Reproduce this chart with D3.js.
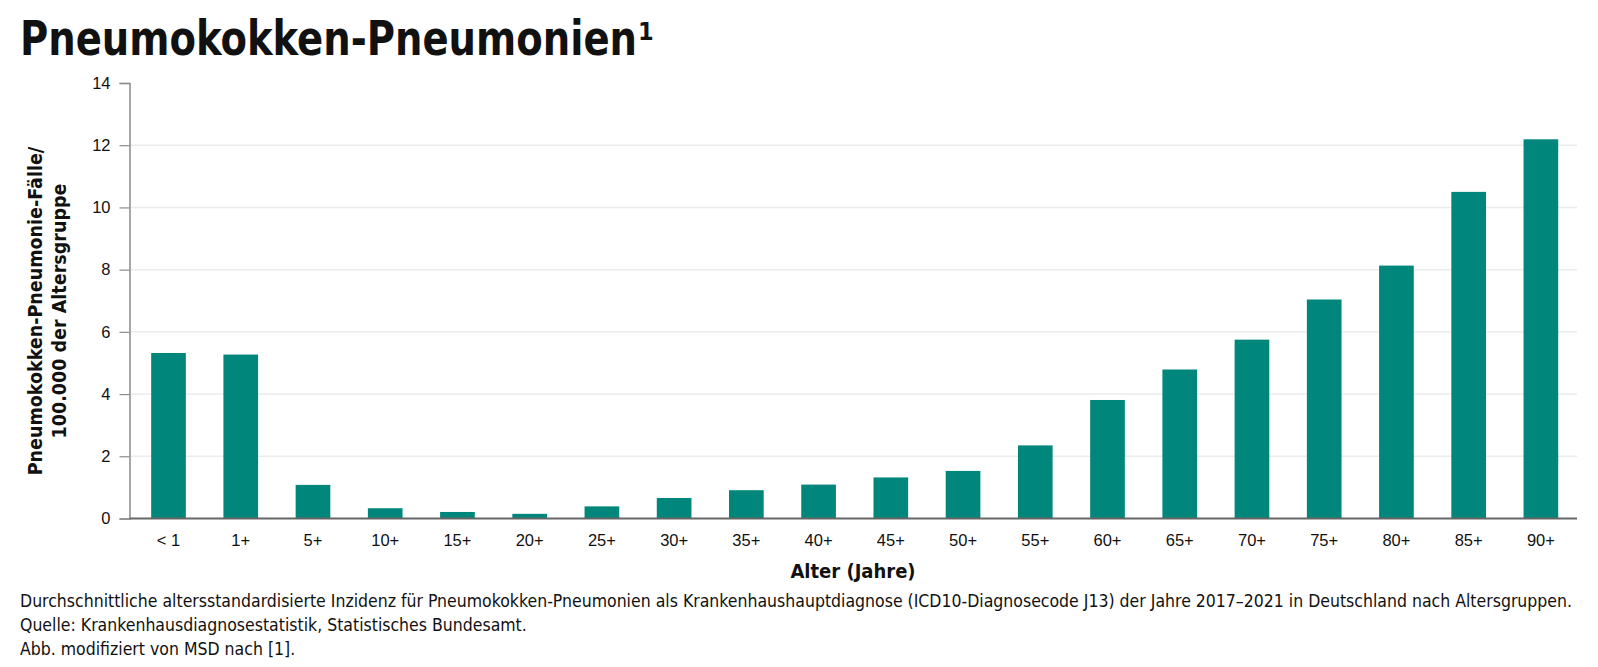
<!DOCTYPE html>
<html>
<head>
<meta charset="utf-8">
<script src="https://cdn.jsdelivr.net/npm/d3@7"></script>
<style>
  body { margin: 0; background: #fff; }
  svg { display: block; font-family: "DejaVu Sans Condensed", "DejaVu Sans", sans-serif; }
</style>
</head>
<body>
<div id="content"></div>
<script>
// Daten
var ageGroups = ["< 1", "1+", "5+", "10+", "15+", "20+", "25+", "30+", "35+", "40+",
                 "45+", "50+", "55+", "60+", "65+", "70+", "75+", "80+", "85+", "90+"];
var incidence = [5.32, 5.27, 1.08, 0.33, 0.21, 0.15, 0.39, 0.66, 0.91, 1.09,
                 1.32, 1.53, 2.35, 3.81, 4.79, 5.75, 7.04, 8.13, 10.50, 12.19];
var yTicks = [0, 2, 4, 6, 8, 10, 12, 14];

var titleText = "Pneumokokken-Pneumonien";
var yLabel = ["Pneumokokken-Pneumonie-Fälle/", "100.000 der Altersgruppe"];
var xLabel = "Alter (Jahre)";
var notes = [
  "Durchschnittliche altersstandardisierte Inzidenz für Pneumokokken-Pneumonien als Krankenhaushauptdiagnose (ICD10-Diagnosecode J13) der Jahre 2017–2021 in Deutschland nach Altersgruppen.",
  "Quelle: Krankenhausdiagnosestatistik, Statistisches Bundesamt.",
  "Abb. modifiziert von MSD nach [1]."
];

var data = ageGroups.map((g, i) => ({ group: g, value: incidence[i] }));

// Grafikparameter
let width = 1598, height = 667,
    pLeft = 129.5, pRight = 1577, pTop = 83, pBottom = 518.5,
    titleWidth = 617;

var svg = d3.select("#content").append("svg")
    .attr("width", width)
    .attr("height", height);

var x = d3.scaleBand()
      .domain(ageGroups)
      .range([132.4, pRight])
      .paddingInner(0.52)
      .paddingOuter(0.26),
    y = d3.scaleLinear()
      .domain([0, 14])
      .range([pBottom, pTop]);

// Titel (schmal gesetzt wie im Original)
svg.append("text")
    .attr("x", 20)
    .attr("y", 55)
    .attr("font-size", 48)
    .attr("font-weight", "bold")
    .attr("fill", "#111")
    .attr("textLength", titleWidth)
    .attr("lengthAdjust", "spacingAndGlyphs")
    .text(titleText);

// Fußnotenzeichen, hochgestellt
svg.append("text")
    .attr("x", 20 + titleWidth + 1)
    .attr("y", 40)
    .attr("font-size", 25)
    .attr("font-weight", "bold")
    .attr("fill", "#111")
    .text("1");

// Gitterlinien
svg.append("g")
  .selectAll("line")
    .data(yTicks.filter(d => d > 0 && d < 14))
  .join("line")
    .attr("x1", pLeft)
    .attr("x2", pRight)
    .attr("y1", d => y(d))
    .attr("y2", d => y(d))
    .attr("stroke", "#ebebeb")
    .attr("stroke-width", 1.5);

// Balken
svg.append("g")
  .selectAll("rect")
    .data(data)
  .join("rect")
    .attr("x", d => x(d.group))
    .attr("y", d => y(d.value))
    .attr("width", x.bandwidth())
    .attr("height", d => y(0) - y(d.value))
    .attr("fill", "#00867a");

// Achsen
let yAxis = svg.append("g")
    .attr("transform", "translate(" + pLeft + ",0)")
    .call(d3.axisLeft(y).tickValues(yTicks).tickSize(10).tickPadding(9));
yAxis.select(".domain").attr("stroke", "#8a8a8a").attr("stroke-width", 1.5);
yAxis.selectAll(".tick line").attr("stroke", "#8a8a8a").attr("stroke-width", 1.2);
yAxis.selectAll(".tick text")
    .attr("font-size", 16.5)
    .attr("font-family", "inherit")
    .attr("fill", "#111");

let xAxis = svg.append("g")
    .attr("transform", "translate(0," + pBottom + ")")
    .call(d3.axisBottom(x).tickSize(0).tickPadding(16));
xAxis.select(".domain")
    .attr("d", "M" + pLeft + ",0H" + pRight)
    .attr("stroke", "#666")
    .attr("stroke-width", 2);
xAxis.selectAll(".tick text")
    .attr("font-size", 16.5)
    .attr("font-family", "inherit")
    .attr("fill", "#111");

// Achsentitel
svg.append("text")
    .attr("x", 853)
    .attr("y", 578)
    .attr("text-anchor", "middle")
    .attr("font-size", 20)
    .attr("font-weight", "bold")
    .attr("fill", "#111")
    .text(xLabel);

svg.append("text")
    .attr("transform", "translate(42,311) rotate(-90)")
    .attr("text-anchor", "middle")
    .attr("font-size", 19.5)
    .attr("font-weight", "bold")
    .attr("fill", "#111")
  .selectAll("tspan")
    .data(yLabel)
  .join("tspan")
    .attr("x", 0)
    .attr("dy", (d, i) => i ? 23.5 : 0)
    .text(d => d);

// Fußnoten
svg.append("g")
  .selectAll("text")
    .data(notes)
  .join("text")
    .attr("x", 20)
    .attr("y", (d, i) => 607 + i * 24)
    .attr("font-size", 17.5)
    .attr("fill", "#111")
    .text(d => d);
</script>
</body>
</html>
